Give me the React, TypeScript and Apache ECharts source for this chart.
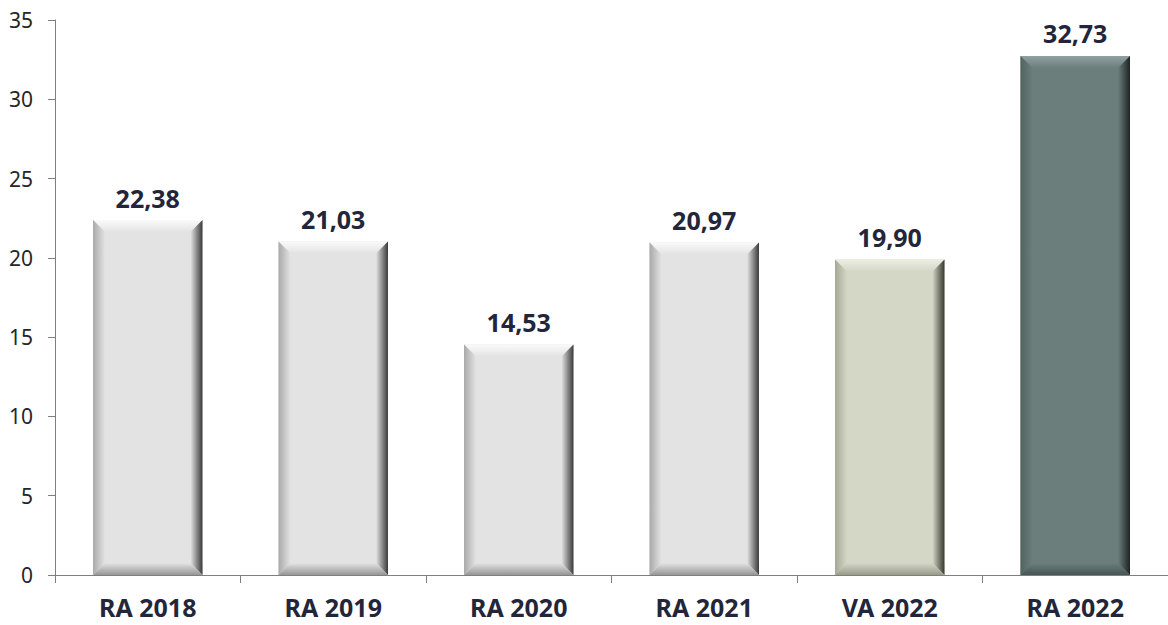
import React, { useEffect, useRef } from "react";
import * as echarts from "echarts";

const categories = ["RA 2018", "RA 2019", "RA 2020", "RA 2021", "VA 2022", "RA 2022"];
const values = [22.38, 21.03, 14.53, 20.97, 19.9, 32.73];
const yTicks = [0, 5, 10, 15, 20, 25, 30, 35];

type Pal = { face: string; top: string; left: string; right: string; bottom: string };
const grey: Pal = { face: "#e3e3e3", top: "#fafafa", left: "#a9a9a9", right: "#3a3a3a", bottom: "#969696" };
const olive: Pal = { face: "#d4d6c6", top: "#eceee2", left: "#a6a897", right: "#37382f", bottom: "#9a9c8b" };
const slate: Pal = { face: "#6b7e7c", top: "#8fa1a0", left: "#52625f", right: "#1c2322", bottom: "#475553" };
const palettes = [grey, grey, grey, grey, olive, slate];

export default function App() {
  const ref = useRef<HTMLDivElement>(null);
  useEffect(() => {
    if (!ref.current) return;
    const chart = echarts.init(ref.current, null, { renderer: "svg" });
    const renderItem = (params: any, api: any) => {
      const idx = api.value(0);
      const v = api.value(1);
      const pal = palettes[idx];
      const top = api.coord([idx, v]);
      const base = api.coord([idx, 0]);
      const w = api.size([1, 0])[0] * 0.59;
      const x0 = top[0] - w / 2;
      const x1 = top[0] + w / 2;
      const y0 = top[1];
      const y1 = base[1];
      const b = 12;
      const lg = (x: number, y: number, x2: number, y2: number, c1: string, c2: string) =>
        new echarts.graphic.LinearGradient(x, y, x2, y2, [
          { offset: 0, color: c1 },
          { offset: 1, color: c2 },
        ]);
      return {
        type: "group",
        children: [
          { type: "rect", shape: { x: x0, y: y0, width: w, height: y1 - y0 }, style: { fill: pal.face } },
          {
            type: "polygon",
            shape: { points: [[x0, y0], [x1, y0], [x1 - b, y0 + b], [x0 + b, y0 + b]] },
            style: { fill: lg(0, 0, 0, 1, pal.top, pal.face) },
          },
          {
            type: "polygon",
            shape: { points: [[x0, y0], [x0 + b, y0 + b], [x0 + b, y1 - b], [x0, y1]] },
            style: { fill: lg(0, 0, 1, 0, pal.left, pal.face) },
          },
          {
            type: "polygon",
            shape: { points: [[x1, y0], [x1, y1], [x1 - b, y1 - b], [x1 - b, y0 + b]] },
            style: { fill: lg(0, 0, 1, 0, pal.face, pal.right) },
          },
          {
            type: "polygon",
            shape: { points: [[x0, y1], [x1, y1], [x1 - b, y1 - b], [x0 + b, y1 - b]] },
            style: { fill: lg(0, 0, 0, 1, pal.face, pal.bottom) },
          },
          {
            type: "text",
            x: top[0],
            y: y0 - 10,
            style: {
              text: v.toFixed(2).replace(".", ","),
              align: "center",
              verticalAlign: "bottom",
              fill: "#23263a",
              font: "bold 25px 'Noto Sans'",
            },
          },
        ],
      };
    };
    chart.setOption({
      animation: false,
      grid: { left: 55, right: -3, top: 20, bottom: 50 },
      xAxis: {
        type: "category",
        data: categories,
        axisLine: { lineStyle: { color: "#7f7f7f", width: 1 } },
        axisTick: { show: true, length: 8, lineStyle: { color: "#7f7f7f" } },
        axisLabel: {
          margin: 19,
          color: "#23263a",
          fontFamily: "Noto Sans",
          fontWeight: "bold",
          fontSize: 25,
        },
      },
      yAxis: {
        type: "value",
        min: yTicks[0],
        max: yTicks[yTicks.length - 1],
        interval: 5,
        axisLine: { show: true, lineStyle: { color: "#7f7f7f", width: 1 } },
        axisTick: { show: true, length: 7, lineStyle: { color: "#7f7f7f" } },
        splitLine: { show: false },
        axisLabel: {
          margin: 22,
          color: "#262626",
          fontFamily: "Noto Sans",
          fontSize: 21,
        },
      },
      series: [
        {
          type: "custom",
          renderItem,
          data: values.map((v, i) => [i, v]),
          encode: { x: 0, y: 1 },
        },
      ],
    });
    return () => chart.dispose();
  }, []);
  return <div ref={ref} style={{ width: 1168, height: 625, position: "absolute", left: 0, top: 0 }} />;
}
